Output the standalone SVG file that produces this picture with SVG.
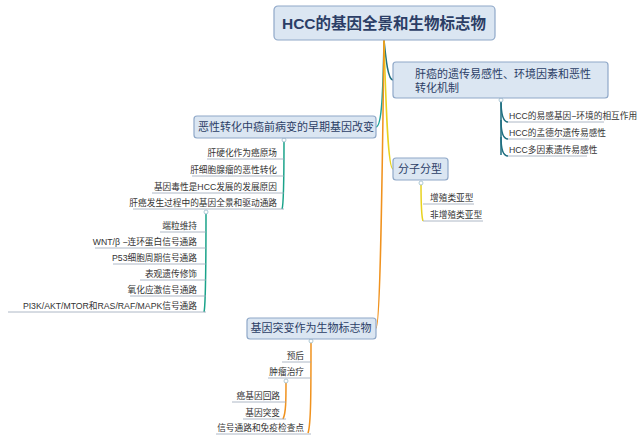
<svg xmlns="http://www.w3.org/2000/svg" width="640" height="441" viewBox="0 0 640 441">
<style>
.box{fill:#dbe6f2;stroke:#8fa8c8;stroke-width:1.2}
.t{font-family:"Liberation Sans","Noto Sans CJK SC",sans-serif;fill:#2c3e66}
.s{font-family:"Liberation Sans","Noto Sans CJK SC",sans-serif;font-size:8.7px;fill:#333}
.u{stroke:#9aa6b8;stroke-width:0.8;fill:none}
.c{fill:none;stroke-width:1.5}
</style>
<rect width="640" height="441" fill="#fff"/>
<g id="connectors">
<path class="c" d="M384,40 C386,60 388,80 393,80" stroke="#1f6f80"/>
<path class="c" d="M384,40 C383,90 382,127 376,127" stroke="#1aa39a"/>
<path class="c" d="M384,40 C386,110 388,169 393,169" stroke="#e8d21e"/>
<path class="c" d="M384,40 C382,200 380,328 376,328" stroke="#f0921e"/>
<g stroke="#1f6f80" class="c"><path d="M501,100 V155"/><path d="M501,100 C501,115 503,122 508,122"/><path d="M501,120 C501,132 503,139 508,139"/><path d="M501,137 C501,150 503,156 508,156"/></g>
<path class="u" d="M508,122 H604 M508,139 H589 M508,156 H587"/>
<g stroke="#1aa38a" class="c"><path d="M284,140 C284,180 284,205 282,209"/></g>
<path class="u" d="M207,159 H284 M192,176 H284 M152,193 H284 M133,209 H284"/>
<g stroke="#1aa38a" class="c"><path d="M206,212 C206,260 206,305 204,312"/></g>
<path class="u" d="M160,232 H206 M95,248 H206 M113,264 H206 M140,280 H206 M130,296 H206 M8,312 H206"/>
<g stroke="#e8d21e" class="c"><path d="M421,183 C421,200 421,215 423,221"/></g>
<path class="u" d="M423,204 H474 M423,221 H483"/>
<g stroke="#f0921e" class="c"><path d="M311,341 C311,390 311,425 308,433"/><path d="M286,381 C286,400 286,413 283,419"/></g>
<path class="u" d="M282,362 H311 M268,378 H311 M232,402 H286 M243,419 H286 M216,434 H311"/>
<g fill="#fff" stroke="#9bc" stroke-width="0.8"><circle cx="501" cy="100" r="2"/><circle cx="284" cy="140" r="2"/><circle cx="206" cy="212" r="2"/><circle cx="421" cy="183" r="2"/><circle cx="311" cy="341" r="2"/><circle cx="286" cy="381" r="2"/></g>
</g>
<g id="root"><rect class="box" x="274" y="6" width="221" height="34" rx="4"/><text class="t" x="384" y="29" font-size="15.5" font-weight="bold" text-anchor="middle">HCC的基因全景和生物标志物</text></g>
<g id="n1"><rect class="box" x="393" y="62" width="215" height="36" rx="3"/><text class="t" x="415" y="78" font-size="11">肝癌的遗传易感性、环境因素和恶性</text><text class="t" x="415" y="92" font-size="11">转化机制</text>
<text class="s" x="509" y="119">HCC的易感基因−环境的相互作用</text><text class="s" x="509" y="136">HCC的孟德尔遗传易感性</text><text class="s" x="509" y="153">HCC多因素遗传易感性</text></g>
<g id="n2"><rect class="box" x="194" y="116" width="182" height="22" rx="3"/><text class="t" x="286" y="131" font-size="11" text-anchor="middle">恶性转化中癌前病变的早期基因改变</text>
<g text-anchor="end"><text class="s" x="277" y="156">肝硬化作为癌原场</text><text class="s" x="277" y="173">肝细胞腺瘤的恶性转化</text><text class="s" x="277" y="190">基因毒性是HCC发展的发展原因</text><text class="s" x="277" y="206">肝癌发生过程中的基因全景和驱动通路</text>
<text class="s" x="197" y="229">端粒维持</text><text class="s" x="197" y="245">WNT/β −连环蛋白信号通路</text><text class="s" x="197" y="261">P53细胞周期信号通路</text><text class="s" x="197" y="277">表观遗传修饰</text><text class="s" x="197" y="293">氧化应激信号通路</text><text class="s" x="197" y="309">PI3K/AKT/MTOR和RAS/RAF/MAPK信号通路</text></g></g>
<g id="n3"><rect class="box" x="393" y="158" width="55" height="22" rx="3"/><text class="t" x="420" y="173" font-size="11" text-anchor="middle">分子分型</text>
<text class="s" x="430" y="201">增殖类亚型</text><text class="s" x="430" y="218">非增殖类亚型</text></g>
<g id="n4"><rect class="box" x="247" y="318" width="129" height="21" rx="3"/><text class="t" x="311" y="332" font-size="11" text-anchor="middle">基因突变作为生物标志物</text>
<g text-anchor="end"><text class="s" x="304" y="359">预后</text><text class="s" x="304" y="375">肿瘤治疗</text><text class="s" x="280" y="399">癌基因回路</text><text class="s" x="280" y="416">基因突变</text><text class="s" x="304" y="431">信号通路和免疫检查点</text></g></g>
</svg>
